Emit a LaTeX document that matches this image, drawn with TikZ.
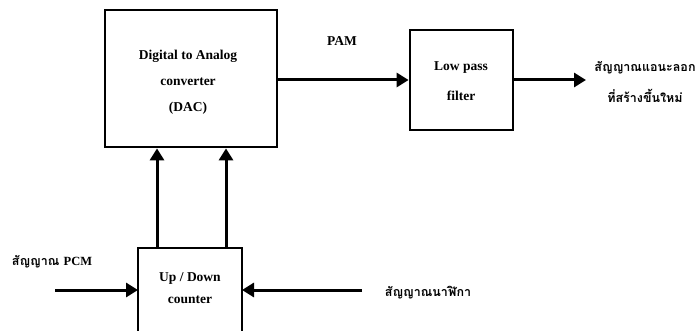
\documentclass[tikz,border=0pt]{standalone}
\usepackage{fontspec}
\setmainfont{Liberation Serif}
\newfontfamily\thaifont[Script=Thai]{Loma}
\usetikzlibrary{arrows.meta}
\begin{document}
\begin{tikzpicture}[x=1pt,y=-1pt,
  blk/.style={draw,line width=2.8pt},
  conn/.style={line width=3pt,-{Triangle[length=12pt,width=14pt]}},
  lbl/.style={font=\bfseries\fontsize{13.5}{16}\selectfont,inner sep=0pt},
  tlbl/.style={font=\thaifont\bfseries\fontsize{12.5}{15}\selectfont,inner sep=0pt,align=center}]
\useasboundingbox (0,0) rectangle (700,331);
% DAC box
\node[blk,minimum width=172pt,minimum height=137pt,inner sep=0pt] (dac) at (191,78.5) {};
\node[lbl] (dac1) at (188,56) {Digital to Analog};
\node[lbl] (dac2) at (188,82) {converter};
\node[lbl] (dac3) at (188,108) {(DAC)};
% LPF box
\node[blk,minimum width=103pt,minimum height=100pt,inner sep=0pt] (lpf) at (461.5,80) {};
\node[lbl] (lpf1) at (461,68) {Low pass};
\node[lbl] (lpf2) at (461,96) {filter};
% Counter box (open at bottom edge of picture)
\coordinate (cbl) at (138,333);
\coordinate (ctl) at (138,248);
\coordinate (ctr) at (242,248);
\coordinate (cbr) at (242,333);
\draw[line width=2.8pt] (cbl) -- (ctl) -- (ctr) -- (cbr);
\node[lbl] (cnt1) at (190,278) {Up / Down};
\node[lbl] (cnt2) at (190,300) {counter};
% vertical connectors
\coordinate (u1) at (157,248);
\coordinate (u2) at (226,248);
\draw[conn] (u1) -- (u1 |- dac.south);
\draw[conn] (u2) -- (u2 |- dac.south);
% PAM
\draw[conn] (dac.east |- 0,80) -- (lpf.west);
\node[lbl] (pam) at (342,41) {PAM};
% output
\coordinate (out) at (586,80);
\draw[conn] (lpf.east) -- (out);
\node[tlbl] (outl1) at (645,68) {สัญญาณแอนะลอก};
\node[tlbl] (outl2) at (645,96) {ที่สร้างขึ้นใหม่};
% inputs to counter
\coordinate (pcm) at (55,290);
\coordinate (clk) at (362,290);
\draw[conn] (pcm) -- (138,290);
\draw[conn] (clk) -- (242,290);
\node[tlbl] (pcml) at (52,262) {สัญญาณ {\rmfamily\bfseries PCM}};
\node[tlbl] (clkl) at (428,293) {สัญญาณนาฬิกา};
\end{tikzpicture}
\end{document}
